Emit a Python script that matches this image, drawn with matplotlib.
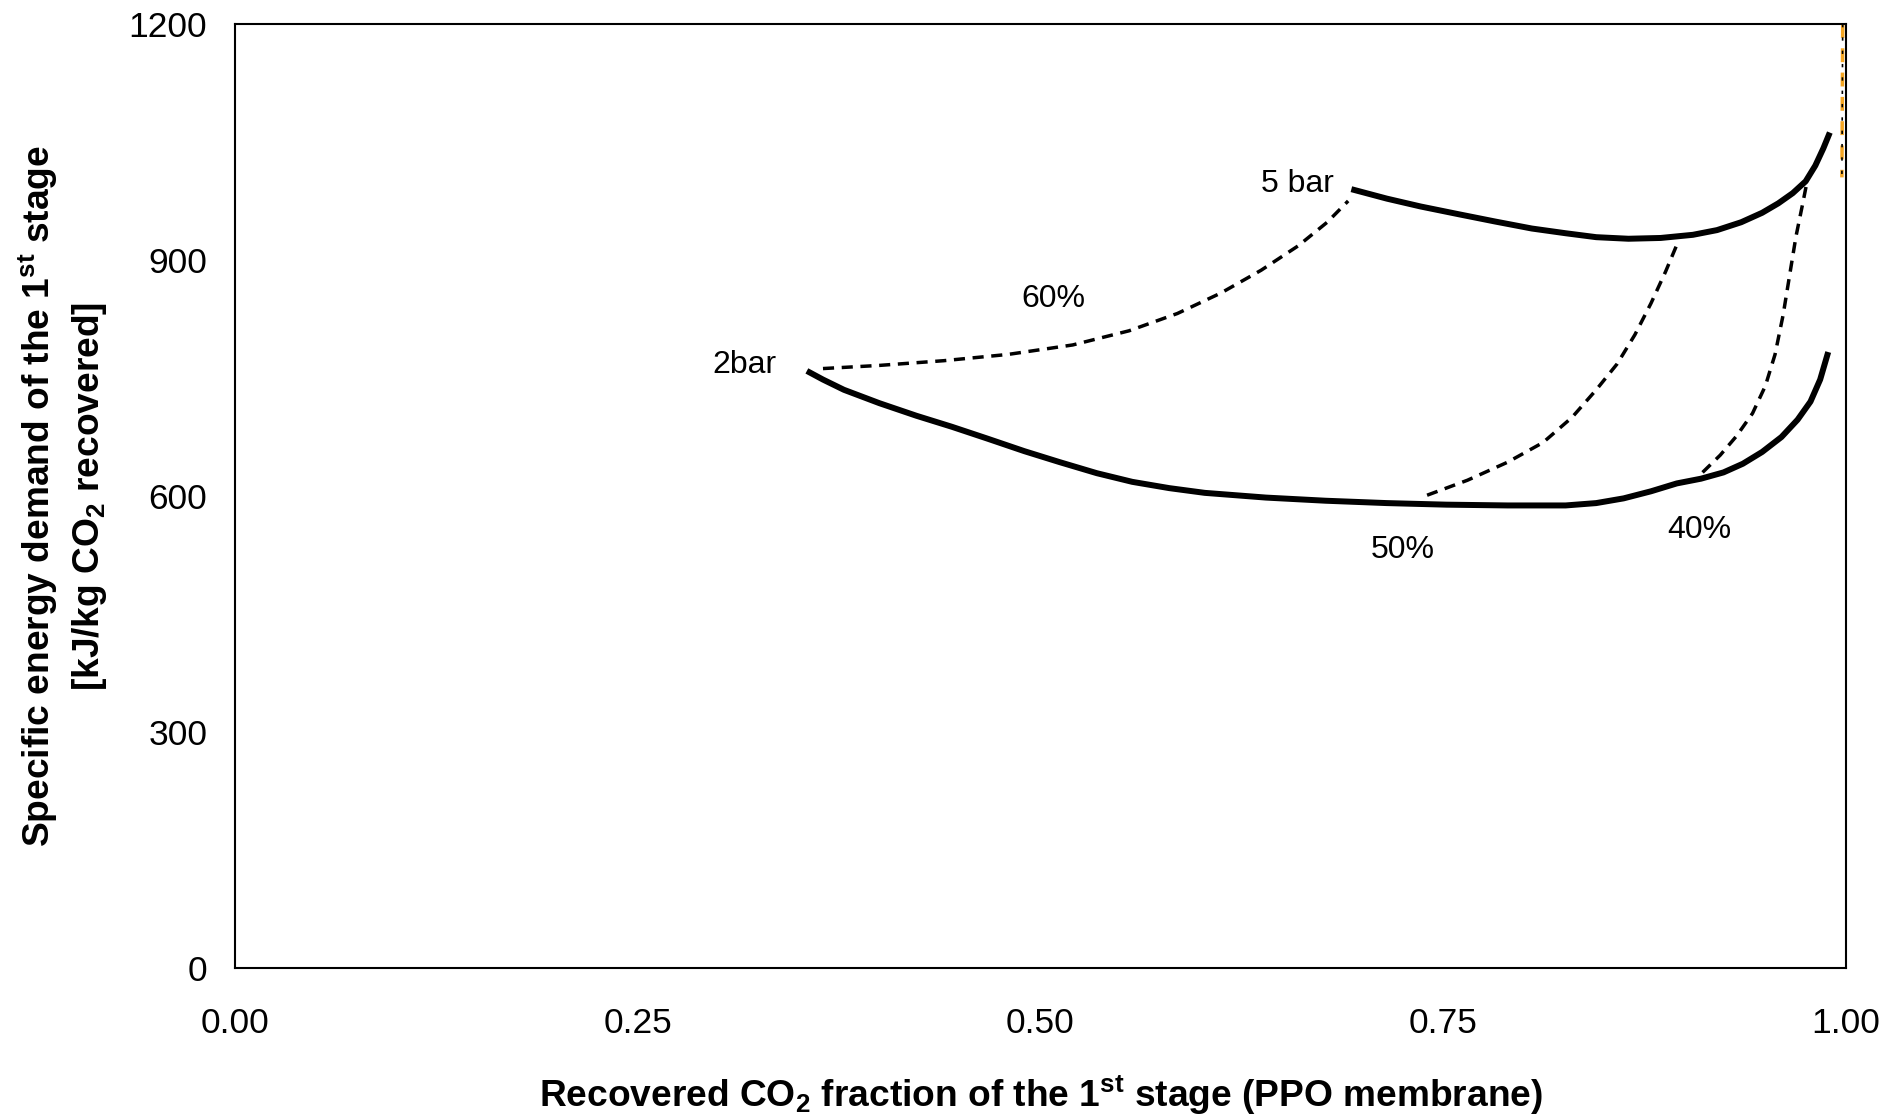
import matplotlib
matplotlib.use('Agg')
import matplotlib.pyplot as plt

plt.rcParams['font.family'] = ['Liberation Sans', 'DejaVu Sans']
plt.rcParams['mathtext.fontset'] = 'custom'
plt.rcParams['mathtext.rm'] = 'Liberation Sans'
plt.rcParams['mathtext.bf'] = 'Liberation Sans:bold'
plt.rcParams['mathtext.it'] = 'Liberation Sans:italic'

# 5 bar curve (upper solid)
x_5bar = [0.693, 0.715, 0.736, 0.760, 0.782, 0.805, 0.826, 0.845, 0.865, 0.885, 0.905,
          0.920, 0.935, 0.948, 0.958, 0.967, 0.975, 0.981, 0.986, 0.990]
y_5bar = [990, 978, 968, 958, 949, 940, 934, 929, 927, 928, 932,
          938, 948, 960, 972, 985, 1000, 1020, 1042, 1062]

# 2 bar curve (lower solid)
x_2bar = [0.355, 0.365, 0.378, 0.400, 0.423, 0.445, 0.467, 0.490, 0.512, 0.535, 0.557,
          0.580, 0.602, 0.640, 0.677, 0.715, 0.752, 0.790, 0.826, 0.845, 0.862, 0.879,
          0.895, 0.910, 0.924, 0.936, 0.948, 0.960, 0.970, 0.978, 0.984, 0.989]
y_2bar = [759, 748, 735, 718, 702, 688, 673, 657, 643, 629, 618,
          610, 604, 598, 594, 591, 589, 588, 588, 591, 597, 606,
          616, 622, 630, 641, 656, 675, 697, 720, 748, 783]

# iso-selectivity dashed lines
x_60 = [0.365, 0.400, 0.440, 0.480, 0.520, 0.555, 0.585, 0.612, 0.637, 0.660, 0.678, 0.691]
y_60 = [762, 766, 772, 780, 792, 810, 832, 858, 887, 918, 948, 975]
x_50 = [0.740, 0.765, 0.790, 0.812, 0.830, 0.845, 0.858, 0.869, 0.879, 0.888, 0.896]
y_50 = [601, 620, 643, 668, 700, 735, 768, 805, 845, 885, 924]
x_40 = [0.911, 0.922, 0.932, 0.942, 0.950, 0.956, 0.961, 0.965, 0.969, 0.973, 0.976]
y_40 = [630, 652, 676, 705, 740, 780, 830, 880, 930, 970, 1001]

# vertical lines near x = 1
x_edge = [0.998, 0.9975]
y_edge = [1200, 1005]

fig = plt.figure(figsize=(18.89, 11.15), dpi=100)
ax = fig.add_axes([0.1244, 0.1318, 0.8528, 0.8467])

ax.plot(x_5bar, y_5bar, color='black', lw=4.3, solid_capstyle='butt', solid_joinstyle='round')
ax.plot(x_2bar, y_2bar, color='black', lw=4.3, solid_capstyle='butt', solid_joinstyle='round')
for xs, ys in [(x_60, y_60), (x_50, y_50), (x_40, y_40)]:
    ax.plot(xs, ys, color='black', lw=2.5, dashes=(3.2, 2.2))
ax.plot(x_edge, y_edge, color='#f5a623', lw=2.5, dashes=(4, 3))
ax.plot(x_edge, y_edge, color='black', lw=1.2, dashes=(2, 6))

ax.text(0.682, 997, '5 bar', fontsize=23, ha='right', va='center')
ax.text(0.316, 767, '2bar', fontsize=23, ha='center', va='center')
ax.text(0.508, 851, '60%', fontsize=23, ha='center', va='center')
ax.text(0.725, 532, '50%', fontsize=23, ha='center', va='center')
ax.text(0.909, 557, '40%', fontsize=23, ha='center', va='center')

ax.set_xlim(0, 1)
ax.set_ylim(0, 1200)
ax.set_xticks([0, 0.25, 0.5, 0.75, 1.0])
ax.set_xticklabels(['0.00', '0.25', '0.50', '0.75', '1.00'])
ax.set_yticks([0, 300, 600, 900, 1200])
ax.tick_params(axis='x', length=0, pad=28, labelsize=25.5)
ax.tick_params(axis='y', length=0, pad=20, labelsize=25.5)
for s in ax.spines.values():
    s.set_linewidth(1.5)

ax.set_xlabel(r'Recovered CO$_\mathbf{2}$ fraction of the 1$^\mathbf{st}$ stage (PPO membrane)',
              fontsize=26.7, fontweight='bold', labelpad=24)
ax.set_ylabel('Specific energy demand of the 1$^\\mathbf{st}$ stage\n'
              '[kJ/kg CO$_\\mathbf{2}$ recovered]',
              fontsize=26.7, fontweight='bold', labelpad=14, linespacing=1.35)

fig.savefig('out.png', dpi=100)
